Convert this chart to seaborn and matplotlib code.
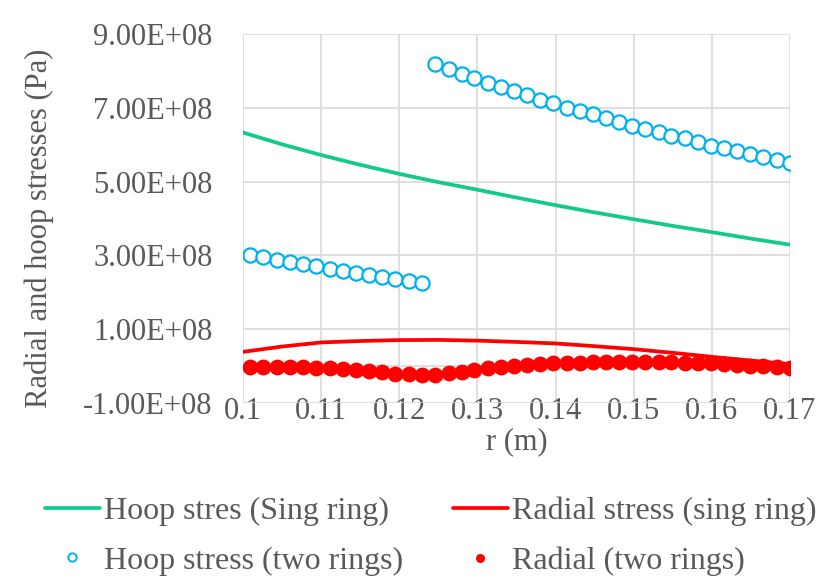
import matplotlib
matplotlib.use("Agg")
import numpy as np
import pandas as pd
import seaborn as sns
import matplotlib.pyplot as plt
from matplotlib.lines import Line2D
from matplotlib.ticker import FuncFormatter

# ---------------- data ----------------
r_single = [0.100, 0.105, 0.110, 0.115, 0.120, 0.125, 0.130, 0.135,
            0.140, 0.145, 0.150, 0.155, 0.160, 0.165, 0.170]
hoop_single = [6.33e8, 6.01e8, 5.72e8, 5.455e8, 5.21e8, 4.985e8, 4.78e8, 4.567e8,
               4.36e8, 4.165e8, 3.98e8, 3.80e8, 3.63e8, 3.455e8, 3.29e8]
radial_single = [3.86e7, 5.30e7, 6.41e7, 6.80e7, 7.05e7, 7.10e7, 6.90e7, 6.55e7,
                 6.14e7, 5.40e7, 4.59e7, 3.60e7, 2.51e7, 1.50e7, 5.4e6]

r_ring1 = [0.1009, 0.1026, 0.1043, 0.1060, 0.1077, 0.1094, 0.1111, 0.1128,
           0.1144, 0.1161, 0.1178, 0.1195, 0.1212, 0.1229]
r_ring2 = [0.1246, 0.1263, 0.1280, 0.1296, 0.1313, 0.1330, 0.1347, 0.1364,
           0.1380, 0.1397, 0.1414, 0.1431, 0.1448, 0.1464, 0.1481, 0.1498,
           0.1515, 0.1532, 0.1548, 0.1565, 0.1582, 0.1599, 0.1616, 0.1632,
           0.1649, 0.1666, 0.1683, 0.1700]

hoop_ring1 = [3.00e8, 2.954e8, 2.884e8, 2.819e8, 2.757e8, 2.703e8, 2.641e8,
              2.576e8, 2.522e8, 2.468e8, 2.414e8, 2.351e8, 2.305e8, 2.251e8]
hoop_ring2 = [8.18e8, 8.046e8, 7.927e8, 7.803e8, 7.684e8, 7.568e8, 7.459e8,
              7.351e8, 7.224e8, 7.127e8, 7.008e8, 6.919e8, 6.830e8, 6.722e8,
              6.622e8, 6.514e8, 6.424e8, 6.351e8, 6.243e8, 6.170e8, 6.081e8,
              5.973e8, 5.911e8, 5.838e8, 5.749e8, 5.676e8, 5.586e8, 5.505e8]

radial_ring1 = [-1.9e6, -1.9e6, -1.9e6, -2.7e6, -3.5e6, -4.6e6, -6.2e6,
                -8.9e6, -1.08e7, -1.35e7, -1.70e7, -2.08e7, -2.24e7, -2.43e7]
radial_ring2 = [-2.43e7, -1.97e7, -1.54e7, -1.08e7, -4.6e6, -1.9e6, 0.0,
                2.7e6, 4.6e6, 7.3e6, 7.3e6, 8.9e6, 1.0e7, 1.16e7,
                1.16e7, 1.16e7, 1.16e7, 1.0e7, 1.0e7, 8.9e6, 7.3e6,
                7.3e6, 4.6e6, 2.7e6, 8.0e5, 0.0, -1.9e6, -4.6e6]

labels = ["Hoop stres (Sing ring)", "Hoop stress (two rings)",
          "Radial stress (sing ring)", "Radial (two rings)"]

x_ticks = [0.10, 0.11, 0.12, 0.13, 0.14, 0.15, 0.16, 0.17]
y_ticks = [-1e8, 1e8, 3e8, 5e8, 7e8, 9e8]

# ---------------- style ----------------
GREEN = "#14C98E"
BLUE = "#00B0F0"
RED = "#FF0000"
GRID = "#D9D9D9"
TEXT = "#595959"
FS = 22
LFS = 23

sns.set_theme(style="white")
plt.rcParams["font.family"] = ["Liberation Serif", "DejaVu Serif"]

df_single = pd.DataFrame({"r": r_single, "hoop": hoop_single, "radial": radial_single})
df_two = pd.DataFrame({"r": r_ring1 + r_ring2,
                       "hoop": hoop_ring1 + hoop_ring2,
                       "radial": radial_ring1 + radial_ring2})

fig = plt.figure(figsize=(8.4, 5.87), dpi=100)
ax = fig.add_axes([243 / 840, 1 - 403 / 587, 547 / 840, 369 / 587])

ax.axhline(0, color=GRID, lw=1.2, zorder=1)

sns.lineplot(data=df_single, x="r", y="hoop", color=GREEN, lw=2.7, ax=ax, zorder=3)
sns.lineplot(data=df_single, x="r", y="radial", color=RED, lw=2.7, ax=ax, zorder=3)
sns.scatterplot(data=df_two, x="r", y="hoop", color=BLUE, s=105, linewidth=1.6,
                ax=ax, zorder=4)
ax.collections[-1].set_facecolor("white")
ax.collections[-1].set_edgecolor(BLUE)
sns.scatterplot(data=df_two, x="r", y="radial", color=RED, s=130, linewidth=0,
                ax=ax, zorder=4)

ax.set_xlim(0.1, 0.17)
ax.set_ylim(-1e8, 9e8)
ax.set_xticks(x_ticks)
ax.set_yticks(y_ticks)
ax.xaxis.set_major_formatter(FuncFormatter(lambda v, p: f"{round(v, 2):g}"))
ax.yaxis.set_major_formatter(FuncFormatter(lambda v, p: f"{v:.2E}"))
ax.grid(True, color=GRID, lw=1.2)
ax.set_axisbelow(True)
for s in ax.spines.values():
    s.set_visible(False)

ax.tick_params(axis="y", length=0, pad=22, labelsize=FS, labelcolor=TEXT)
ax.tick_params(axis="x", length=0, pad=-4, labelsize=FS, labelcolor=TEXT)

ax.set_xlabel("r (m)", fontsize=FS, color=TEXT)
ax.set_ylabel("Radial and hoop stresses (Pa)", fontsize=FS, color=TEXT)
ax.xaxis.set_label_coords(0.5, -0.065)
ax.yaxis.set_label_coords(-0.345, 0.474)

handles = [
    Line2D([], [], color=GREEN, lw=2.7),
    Line2D([], [], ls="none", marker="o", markersize=6, markerfacecolor="white",
           markeredgecolor=BLUE, markeredgewidth=1.4),
    Line2D([], [], color=RED, lw=2.7),
    Line2D([], [], ls="none", marker="o", markersize=6.5, markerfacecolor=RED,
           markeredgewidth=0),
]
fig.legend(handles, labels, ncol=2, loc="upper left",
           bbox_to_anchor=(45 / 840, 1 - 497 / 587), frameon=False,
           fontsize=LFS, labelcolor=TEXT, handlelength=1.72, handletextpad=0.13,
           columnspacing=1.55, labelspacing=0.62, borderpad=0, borderaxespad=0)

fig.savefig("out.png", dpi=100)
